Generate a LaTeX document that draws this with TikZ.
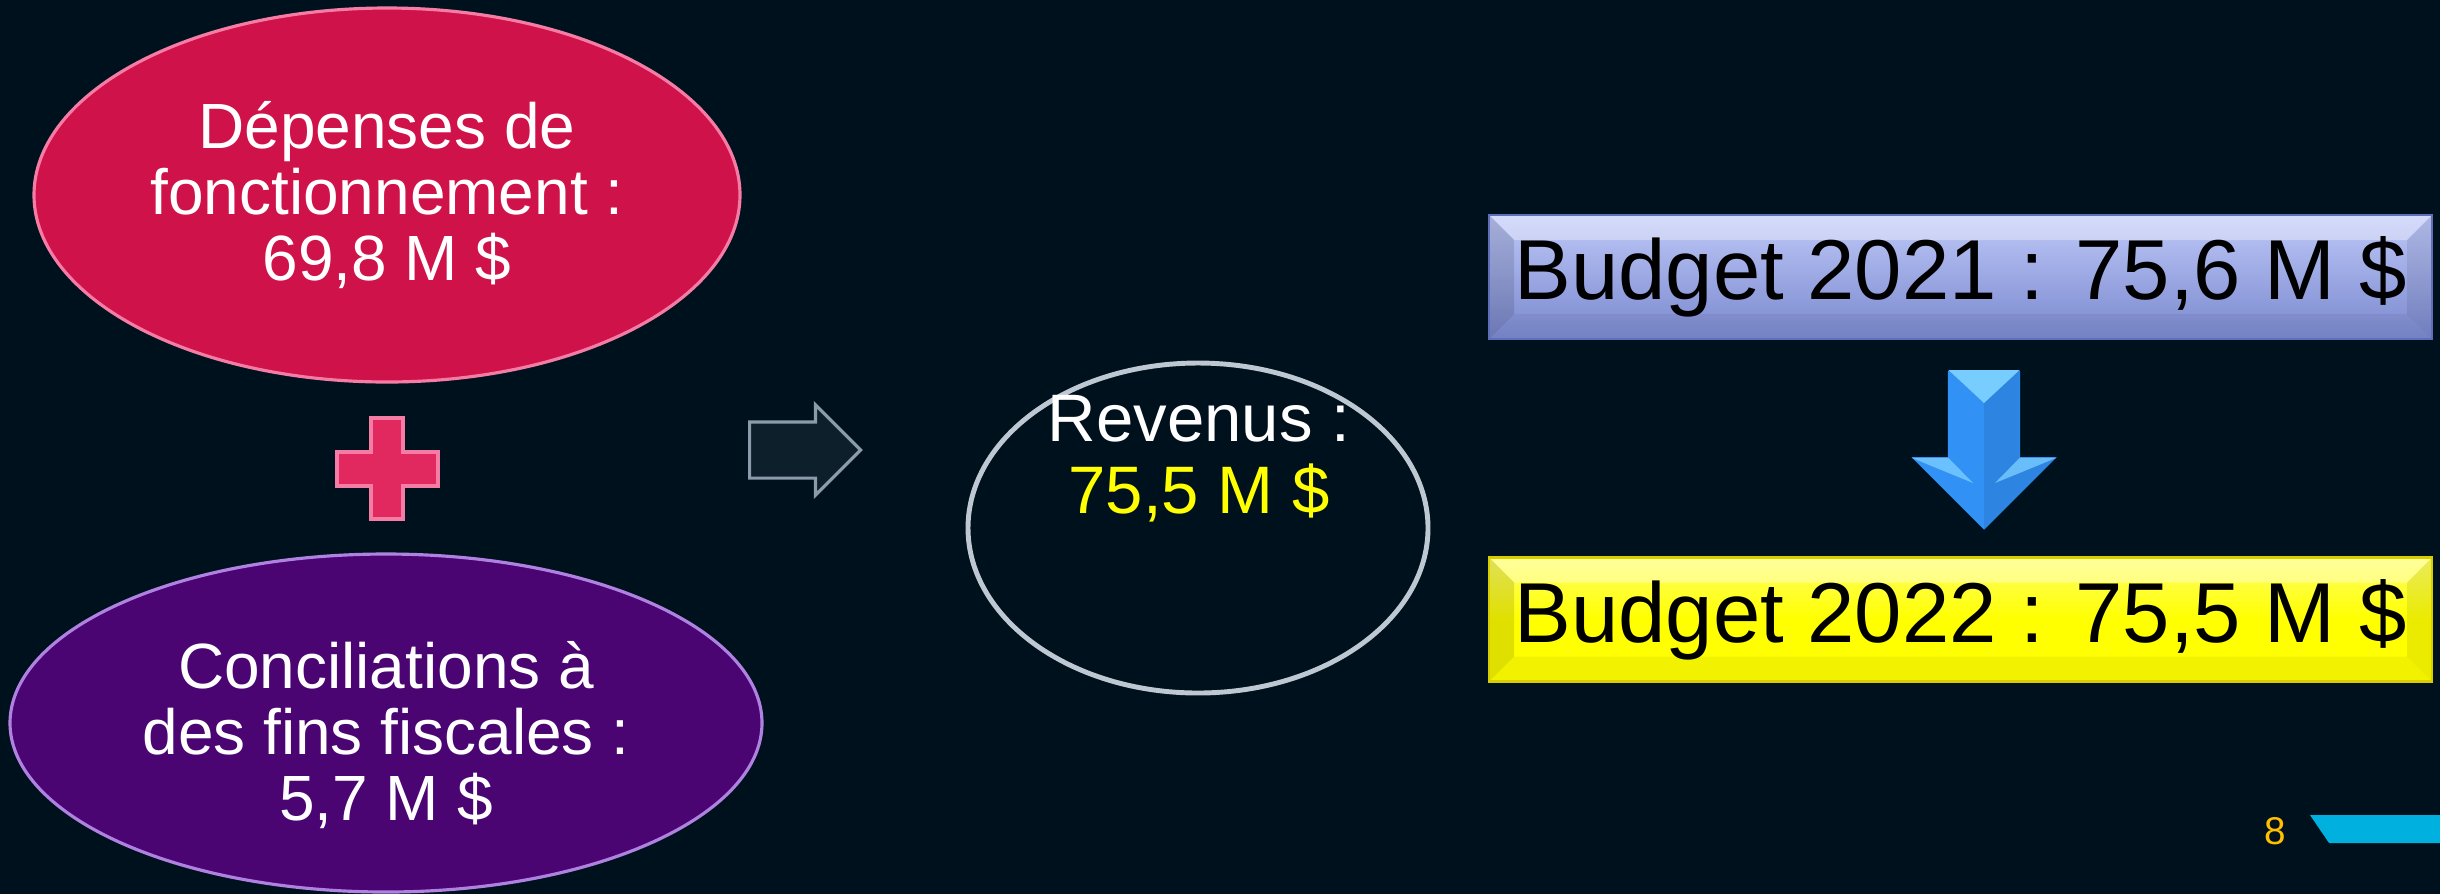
\documentclass[tikz,border=0pt]{standalone}
\usepackage{fontspec}
\setmainfont{Liberation Sans}
\usetikzlibrary{shapes.geometric,shapes.arrows}

\definecolor{fond}{RGB}{0,17,30}
\definecolor{rouge}{RGB}{207,18,73}
\definecolor{rougeplus}{RGB}{225,40,95}
\definecolor{rougeclair}{RGB}{245,125,165}
\definecolor{violet}{RGB}{75,5,115}
\definecolor{violetclair}{RGB}{175,130,225}
\definecolor{lavhaut}{RGB}{190,200,248}
\definecolor{lavbas}{RGB}{122,136,206}
\definecolor{lavbord}{RGB}{95,110,185}
\definecolor{jaune}{RGB}{255,255,0}
\definecolor{jaunebord}{RGB}{215,205,0}
\definecolor{bleuclair}{RGB}{120,205,255}
\definecolor{bleu}{RGB}{50,145,245}
\definecolor{verre}{RGB}{190,200,210}
\definecolor{ardoise}{RGB}{140,155,170}
\definecolor{orange}{RGB}{255,192,0}
\definecolor{turquoise}{RGB}{0,176,222}

\begin{document}
\begin{tikzpicture}[
    bulle/.style={ellipse, inner sep=0pt, text=white, align=center,
        font=\fontsize{18.2}{18.8}\selectfont, line width=0.9pt},
    biseau/.style={path picture={
        \fill[white, opacity=0.35] (path picture bounding box.north west) -- (path picture bounding box.north east)
            -- ++(-0.25,-0.25) -- ([shift={(0.25,-0.25)}]path picture bounding box.north west) -- cycle;
        \fill[black, opacity=0.12] (path picture bounding box.north west) -- ++(0.25,-0.25)
            -- ([shift={(0.25,0.25)}]path picture bounding box.south west) -- (path picture bounding box.south west) -- cycle;
        \fill[black, opacity=0.08] (path picture bounding box.north east) -- ++(-0.25,-0.25)
            -- ([shift={(-0.25,0.25)}]path picture bounding box.south east) -- (path picture bounding box.south east) -- cycle;
        \fill[black, opacity=0.05] (path picture bounding box.south west) -- ++(0.25,0.25)
            -- ([shift={(-0.25,0.25)}]path picture bounding box.south east) -- (path picture bounding box.south east) -- cycle;
    }},
    boite/.style={rectangle, inner sep=0pt, minimum width=9.43cm, minimum height=1.24cm,
        font=\fontsize{24.2}{26}\selectfont, line width=0.6pt, biseau}
]
    % Background
    \fill[fond] (0,0) rectangle (24.4,-8.94);
    \clip (0,0) rectangle (24.4,-8.94);

    % Left side: the two amounts
    \node[bulle, fill=rouge, draw=rougeclair, minimum width=7.06cm, minimum height=3.74cm]
        (depenses) at (3.87,-1.95) {Dépenses de\\fonctionnement :\\69,8 M \$};
    \node[bulle, fill=violet, draw=violetclair, minimum width=7.52cm, minimum height=3.38cm]
        (concil) at (3.86,-7.23) {};
    \node[bulle] (conciltexte) at (3.86,-7.35) {Conciliations à\\des fins fiscales :\\5,7 M \$};

    % Plus sign
    \draw[fill=rougeplus, draw=rougeclair, line width=1.1pt]
        (3.71,-4.18) -- (4.03,-4.18) -- (4.03,-4.52) -- (4.38,-4.52) -- (4.38,-4.86)
        -- (4.03,-4.86) -- (4.03,-5.19) -- (3.71,-5.19) -- (3.71,-4.86) -- (3.37,-4.86)
        -- (3.37,-4.52) -- (3.71,-4.52) -- cycle;

    % Hollow arrow
    \node[single arrow, anchor=tail, fill=fond!90!ardoise, draw=ardoise, line width=0.9pt,
        inner sep=0.265cm, single arrow head extend=0.17cm,
        minimum height=1.11cm, minimum width=0.87cm] (fleche) at (7.48,-4.50) {};

    % Revenues
    \node[ellipse, fill=fond, draw=verre, line width=1.4pt,
        minimum width=4.60cm, minimum height=3.30cm] (revenus) at (11.98,-5.28) {};
    \node[text=white, align=center, font=\fontsize{19.1}{20.5}\selectfont]
        (revtexte) at (11.99,-4.59) {Revenus :\\\textcolor{jaune}{75,5 M \$}};

    % Budgets
    \node[boite, top color=lavhaut, bottom color=lavbas, draw=lavbord]
        (budgetA) at (19.605,-2.77) {Budget 2021 : 75,6 M \$};
    \node[boite, top color=jaune!60!white, bottom color=jaune, middle color=jaune, draw=jaunebord]
        (budgetB) at (19.605,-6.195) {Budget 2022 : 75,5 M \$};

    % Down arrow
    \node[single arrow, anchor=tail, rotate=-90, fill=bleu, draw=none,
        inner sep=0.355cm, single arrow head extend=0.365cm,
        minimum height=1.59cm, minimum width=1.44cm] (flechebas) at (19.84,-3.70) {};
    \fill[black, opacity=0.08] (19.84,-3.70) -- (20.195,-3.70) -- (20.195,-4.58) -- (20.56,-4.58) -- (19.84,-5.30) -- cycle;
    \fill[bleuclair] (19.485,-3.70) -- (20.195,-3.70) -- (19.84,-4.03) -- cycle;
    \fill[bleuclair, opacity=0.8] (19.12,-4.58) -- (19.485,-4.58) -- (19.73,-4.83) -- cycle;
    \fill[bleuclair, opacity=0.8] (20.195,-4.58) -- (20.56,-4.58) -- (19.95,-4.83) -- cycle;

    % Page number
    \node[text=orange, font=\fontsize{11}{12}\selectfont] (page) at (22.75,-8.31) {8};
    \fill[turquoise] (23.10,-8.15) -- (24.40,-8.15) -- (24.40,-8.43) -- (23.29,-8.43) -- cycle;
\end{tikzpicture}
\end{document}
